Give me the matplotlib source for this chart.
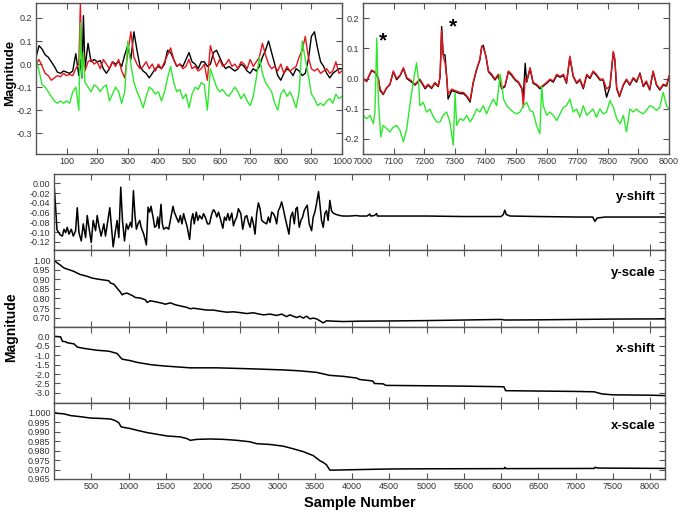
import matplotlib
matplotlib.use("Agg")
import matplotlib.pyplot as plt
from matplotlib.ticker import FormatStrFormatter

plt.rcParams['font.family'] = ['Liberation Sans', 'DejaVu Sans']
plt.rcParams['axes.unicode_minus'] = False

# ---- top left: samples 0-1000 ----
tl_x = [0, 10, 20, 30, 40, 50, 60, 70, 80, 90, 100, 110, 120, 130, 140, 145, 150, 155, 160,
        170, 180, 190, 200, 210, 220, 230, 240, 250, 260, 270, 280, 290, 300, 310, 320, 330,
        340, 350, 360, 370, 380, 390, 400, 410, 420, 430, 440, 450, 460, 470, 480, 490, 500,
        510, 520, 530, 540, 550, 560, 570, 580, 590, 600, 610, 620, 630, 640, 650, 660, 670,
        680, 690, 700, 710, 720, 730, 740, 750, 760, 770, 780, 790, 800, 810, 820, 830, 840,
        850, 860, 870, 880, 890, 900, 910, 920, 930, 940, 950, 960, 970, 980, 990, 1000]
tl_black = [0.03, 0.08, 0.065, 0.04, 0.03, 0.01, -0.01, -0.035, -0.04, -0.03, -0.035, -0.04,
            -0.03, 0.045, -0.05, 0.02, -0.06, 0.21, -0.02,
            0.09, 0.01, 0.02, 0.01, 0.015, -0.02, -0.04, -0.02, 0.01, 0.0, 0.01, -0.01, 0.04,
            0.08, 0.02, 0.14, 0.06, -0.01, -0.03, -0.04, -0.06, -0.04, -0.02, -0.01, -0.02,
            0.0, 0.06, 0.05, 0.02, -0.01, 0.0, -0.01, 0.02, 0.05, 0.01, 0.0, -0.02, 0.01, 0.01,
            -0.01, 0.0, 0.05, 0.06, 0.03, 0.0, -0.02, -0.01, -0.02, -0.03, -0.02, 0.0, -0.01,
            -0.03, -0.04, -0.02, -0.03, -0.01, 0.03, 0.06, 0.1, 0.05, 0.0, -0.05, -0.07, -0.04,
            -0.02, -0.03, -0.05, -0.02, -0.03, -0.05, -0.04, 0.02, 0.12, 0.14, 0.07, 0.01,
            -0.01, -0.04, -0.06, -0.04, -0.03, -0.02, -0.02]
tl_red = [0.0, 0.02, -0.01, -0.04, -0.05, -0.07, -0.06, -0.05, -0.055, -0.04, -0.05, -0.045,
          -0.05, -0.02, 0.0, 0.26, -0.02, 0.05, -0.03,
          0.01, 0.02, 0.0, 0.01, -0.02, 0.02, 0.0, -0.02, 0.01, -0.01, 0.02, -0.03, -0.06,
          0.05, 0.14, 0.03, 0.0, -0.02, -0.01, 0.01, -0.02, 0.0, -0.03, 0.0, -0.02, 0.01,
          0.04, 0.07, 0.02, -0.01, 0.0, -0.02, -0.01, 0.02, -0.02, -0.01, -0.03, -0.02, 0.0,
          -0.07, 0.08, 0.03, -0.01, 0.02, -0.01, 0.0, 0.02, -0.01, 0.0, -0.02, 0.01, 0.0,
          -0.02, 0.02, -0.01, 0.01, 0.03, 0.09, 0.04, 0.0, -0.02, -0.01, -0.03, 0.0, -0.04,
          -0.01, -0.03, -0.02, -0.01, 0.03, 0.06, 0.12, 0.03, -0.02, -0.03, -0.02, -0.04,
          -0.03, -0.02, -0.04, -0.03, 0.01, -0.04, -0.03]
tl_green = [0.02, -0.03, -0.09, -0.1, -0.12, -0.14, -0.16, -0.17, -0.16, -0.17, -0.16, -0.17,
            -0.12, -0.1, -0.2, 0.18, -0.06, 0.05, -0.08,
            -0.1, -0.12, -0.09, -0.1, -0.12, -0.1, -0.09, -0.16, -0.13, -0.1, -0.12, -0.17,
            -0.12, 0.1, 0.0, -0.08, -0.12, -0.15, -0.19, -0.14, -0.1, -0.11, -0.13, -0.12,
            -0.16, -0.12, -0.06, -0.01, -0.08, -0.12, -0.11, -0.15, -0.13, -0.19, -0.13, -0.1,
            -0.11, -0.08, -0.09, -0.2, -0.02, -0.06, -0.1, -0.12, -0.11, -0.13, -0.14, -0.12,
            -0.1, -0.12, -0.15, -0.13, -0.16, -0.18, -0.14, -0.06, 0.03, -0.04, -0.08, -0.1,
            -0.12, -0.17, -0.2, -0.13, -0.11, -0.14, -0.12, -0.15, -0.19, -0.12, 0.1, 0.02,
            -0.05, -0.13, -0.15, -0.18, -0.17, -0.18, -0.16, -0.15, -0.17, -0.13, -0.15, -0.14]

# ---- top right: samples 7000-8000 ----
tr_x = [7000, 7012, 7028, 7039, 7050, 7056, 7066, 7077, 7088, 7099, 7110, 7121, 7132, 7143,
        7159, 7170, 7186, 7203, 7213, 7224, 7235, 7246, 7252, 7257, 7262, 7268, 7273, 7278,
        7290, 7301, 7317, 7328, 7339, 7350, 7360, 7371, 7382, 7388, 7393, 7402, 7410, 7421,
        7431, 7442, 7453, 7464, 7475, 7486, 7497, 7508, 7519, 7524, 7530, 7535, 7546, 7556,
        7567, 7578, 7589, 7600, 7611, 7622, 7633, 7644, 7655, 7665, 7676, 7687, 7698, 7709,
        7720, 7731, 7742, 7752, 7763, 7774, 7785, 7796, 7807, 7818, 7823, 7829, 7838, 7851,
        7861, 7872, 7883, 7894, 7905, 7916, 7926, 7937, 7948, 7959, 7970, 7981, 7992, 8000]
tr_red = [0.0, -0.008, 0.028, 0.022, 0.003, -0.035, -0.051, -0.03, -0.019, 0.025, 0.0,
          0.011, 0.036, 0.003, -0.008, -0.019, -0.002, -0.03, -0.019, -0.03, -0.013, -0.024,
          0.009, 0.16, 0.074, 0.052, 0.009, -0.051, -0.035, -0.04, -0.046, -0.046, -0.057,
          -0.073, -0.013, 0.031, 0.064, 0.107, 0.102, 0.074, 0.025, 0.014, -0.002, 0.014,
          -0.03, -0.024, 0.025, 0.014, -0.002, -0.011, -0.03, -0.095, 0.0, -0.008, 0.036,
          -0.013, -0.019, -0.03, -0.022, -0.013, -0.002, -0.008, 0.014, 0.007, 0.014, -0.013,
          0.074, 0.009, -0.013, -0.002, -0.03, 0.014, 0.003, 0.025, 0.014, -0.002, -0.002,
          -0.035, -0.024, 0.09, 0.064, -0.03, -0.057, -0.019, -0.002, -0.019, 0.003, -0.008,
          0.014, -0.024, -0.008, -0.035, 0.025, -0.019, -0.035, -0.019, -0.022, 0.009]
tr_black = [0.0, -0.01, 0.026, 0.02, 0.0, -0.04, -0.053, -0.032, -0.02, 0.022, -0.004,
            0.009, 0.033, 0.0, -0.012, -0.022, -0.005, -0.034, -0.022, -0.033, -0.016, -0.027,
            0.006, 0.172, 0.08, 0.078, 0.012, -0.068, -0.04, -0.044, -0.05, -0.05, -0.06,
            -0.078, -0.016, 0.028, 0.062, 0.105, 0.11, 0.072, 0.022, 0.01, -0.005, 0.01,
            -0.034, -0.027, 0.022, 0.01, -0.005, -0.014, -0.034, -0.06, 0.05, -0.012, 0.032,
            -0.016, -0.022, -0.034, -0.025, -0.016, -0.005, -0.012, 0.01, 0.004, 0.01, -0.016,
            0.07, 0.006, -0.016, -0.005, -0.034, 0.01, 0.0, 0.022, 0.01, -0.005, -0.005,
            -0.062, -0.027, 0.086, 0.06, -0.034, -0.06, -0.022, -0.005, -0.022, 0.0, -0.012,
            0.018, -0.027, -0.012, -0.038, 0.022, -0.022, -0.038, -0.022, -0.025, 0.006]
tr_gx = [7000, 7012, 7023, 7034, 7039, 7045, 7050, 7058, 7066, 7077, 7088, 7099, 7110, 7121,
         7132, 7143, 7153, 7164, 7175, 7181, 7186, 7197, 7208, 7219, 7230, 7241, 7252, 7262,
         7273, 7284, 7295, 7301, 7306, 7317, 7328, 7339, 7350, 7360, 7371, 7382, 7393, 7404,
         7415, 7426, 7437, 7448, 7453, 7459, 7470, 7480, 7491, 7502, 7513, 7524, 7535, 7546,
         7556, 7567, 7578, 7584, 7589, 7600, 7611, 7622, 7633, 7644, 7655, 7665, 7676, 7687,
         7698, 7709, 7720, 7731, 7742, 7752, 7763, 7774, 7785, 7796, 7807, 7818, 7829, 7840,
         7851, 7861, 7872, 7883, 7894, 7905, 7916, 7926, 7937, 7948, 7959, 7970, 7981, 7992,
         8000]
tr_green = [-0.122, -0.133, -0.122, -0.15, -0.111, 0.134, -0.068, -0.193, -0.155, -0.166,
            -0.177, -0.161, -0.155, -0.172, -0.21, -0.166, -0.09, -0.013, 0.052, -0.002,
            -0.09, -0.079, -0.111, -0.101, -0.128, -0.144, -0.144, -0.122, -0.111, -0.144,
            -0.221, -0.046, -0.155, -0.133, -0.139, -0.122, -0.144, -0.128, -0.101, -0.111,
            -0.09, -0.117, -0.09, -0.068, -0.09, 0.014, -0.013, -0.068, -0.09, -0.101, -0.111,
            -0.117, -0.111, -0.09, -0.079, -0.106, -0.111, -0.155, -0.183, -0.024, -0.09,
            -0.122, -0.111, -0.122, -0.139, -0.117, -0.095, -0.09, -0.068, -0.111, -0.101,
            -0.128, -0.09, -0.122, -0.111, -0.101, -0.128, -0.101, -0.117, -0.111, -0.073,
            -0.095, -0.133, -0.15, -0.122, -0.177, -0.101, -0.111, -0.101, -0.111, -0.117,
            -0.106, -0.09, -0.095, -0.106, -0.095, -0.046, -0.09, -0.101]

# ---- bottom: fitted transform parameters vs sample number ----
ys_x = [0, 18, 40, 80, 112, 134, 156, 178, 201, 232, 259, 290, 312, 335, 366, 392, 424, 446,
        468, 500, 526, 558, 580, 602, 633, 669, 691, 723, 749, 772, 794, 825, 847, 870, 896,
        919, 946, 972, 995, 1026, 1044, 1066, 1088, 1106, 1128, 1151, 1169, 1204, 1240, 1262,
        1284, 1302, 1329, 1351, 1374, 1392, 1409, 1436, 1454, 1472, 1507, 1539, 1561, 1597,
        1615, 1641, 1672, 1695, 1717, 1739, 1762, 1784, 1820, 1842, 1864, 1882, 1909, 1931,
        1953, 1985, 2007, 2029, 2061, 2087, 2118, 2141, 2163, 2185, 2208, 2239, 2266, 2288,
        2310, 2333, 2355, 2386, 2408, 2431, 2453, 2475, 2507, 2533, 2564, 2587, 2609, 2631,
        2654, 2676, 2698, 2720, 2743, 2765, 2788, 2819, 2854, 2877, 2899, 2921, 2944, 2966,
        2988, 3011, 3033, 3055, 3077, 3100, 3131, 3153, 3176, 3202, 3225, 3247, 3265, 3291,
        3314, 3336, 3358, 3381, 3399, 3425, 3457, 3479, 3501, 3523, 3550, 3568, 3590, 3613,
        3635, 3657, 3679, 3702, 3724, 3746, 3791, 3836, 3880, 3969, 4059, 4103, 4200, 4240,
        4250, 4300, 4330, 4340, 4600, 5000, 5500, 6000, 6030, 6050, 6070, 6120, 6500, 7000,
        7230, 7260, 7290, 7400, 8200]
ys_y = [0.0, -0.04, -0.095, -0.105, -0.108, -0.094, -0.101, -0.09, -0.104, -0.094, -0.108,
        -0.097, -0.05, -0.101, -0.118, -0.083, -0.111, -0.066, -0.09, -0.121, -0.076, -0.097,
        -0.066, -0.087, -0.108, -0.083, -0.108, -0.076, -0.05, -0.09, -0.13, -0.097, -0.076,
        -0.111, -0.008, -0.076, -0.118, -0.083, -0.094, -0.08, -0.09, -0.015, -0.069, -0.094,
        -0.083, -0.076, -0.09, -0.104, -0.126, -0.049, -0.059, -0.047, -0.069, -0.09, -0.087,
        -0.069, -0.092, -0.043, -0.083, -0.094, -0.09, -0.094, -0.076, -0.047, -0.059, -0.069,
        -0.08, -0.066, -0.083, -0.062, -0.076, -0.087, -0.115, -0.076, -0.062, -0.083, -0.059,
        -0.076, -0.066, -0.073, -0.062, -0.069, -0.083, -0.083, -0.062, -0.054, -0.059, -0.069,
        -0.059, -0.076, -0.092, -0.069, -0.076, -0.062, -0.076, -0.061, -0.087, -0.076, -0.069,
        -0.052, -0.062, -0.094, -0.069, -0.066, -0.08, -0.09, -0.069, -0.083, -0.104, -0.062,
        -0.04, -0.052, -0.076, -0.08, -0.083, -0.069, -0.08, -0.059, -0.062, -0.069, -0.083,
        -0.056, -0.049, -0.038, -0.052, -0.069, -0.09, -0.104, -0.069, -0.059, -0.083, -0.052,
        -0.049, -0.09, -0.076, -0.069, -0.056, -0.049, -0.045, -0.083, -0.097, -0.069, -0.059,
        -0.042, -0.017, -0.042, -0.076, -0.09, -0.062, -0.056, -0.076, -0.035, -0.056, -0.061,
        -0.064, -0.066, -0.067, -0.067, -0.066, -0.067, -0.067, -0.063, -0.067, -0.066,
        -0.062, -0.067, -0.067, -0.067, -0.068, -0.068, -0.064, -0.055, -0.064, -0.067,
        -0.068, -0.069, -0.069, -0.078, -0.071, -0.069, -0.069]

ysc_x = [0, 45, 89, 134, 201, 268, 312, 357, 401, 446, 513, 580, 669, 736, 758, 803, 847, 892,
         914, 937, 981, 1048, 1093, 1160, 1227, 1249, 1293, 1383, 1450, 1494, 1561, 1628, 1695,
         1784, 1829, 1873, 1962, 2052, 2141, 2230, 2319, 2408, 2498, 2587, 2676, 2743, 2810,
         2899, 2988, 3055, 3122, 3167, 3256, 3300, 3345, 3390, 3434, 3479, 3523, 3568, 3613,
         3657, 3746, 3880, 4103, 4500, 5000, 5500, 6000, 6050, 6500, 7000, 7500, 8200]
ysc_y = [1.0, 0.986, 0.974, 0.96, 0.951, 0.942, 0.933, 0.925, 0.921, 0.916, 0.907, 0.902,
         0.897, 0.893, 0.881, 0.875, 0.854, 0.833, 0.819, 0.825, 0.828, 0.816, 0.805, 0.802,
         0.793, 0.779, 0.788, 0.781, 0.775, 0.77, 0.777, 0.767, 0.761, 0.753, 0.746, 0.749,
         0.744, 0.739, 0.739, 0.733, 0.728, 0.73, 0.726, 0.721, 0.725, 0.719, 0.714, 0.718,
         0.711, 0.718, 0.705, 0.714, 0.7, 0.707, 0.697, 0.707, 0.693, 0.697, 0.693, 0.683,
         0.672, 0.683, 0.681, 0.679, 0.681, 0.682, 0.684, 0.687, 0.69, 0.687, 0.688, 0.69,
         0.692, 0.693]

xs_x = [0, 89, 112, 156, 178, 268, 312, 401, 490, 580, 714, 758, 847, 892, 914, 1026, 1115,
        1249, 1293, 1472, 1650, 1829, 2185, 2631, 3077, 3300, 3523, 3702, 3880, 4059, 4103,
        4200, 4280, 4300, 4420, 4450, 5000, 5500, 6000, 6040, 6060, 6500, 7000, 7250, 7350,
        7500, 8000, 8200]
xs_y = [0.0, -0.03, -0.26, -0.29, -0.34, -0.4, -0.57, -0.64, -0.69, -0.74, -0.78, -0.81,
        -0.91, -1.12, -1.21, -1.29, -1.38, -1.47, -1.5, -1.57, -1.62, -1.67, -1.67, -1.72,
        -1.78, -1.83, -1.91, -2.07, -2.12, -2.21, -2.29, -2.33, -2.37, -2.5, -2.52, -2.6,
        -2.62, -2.64, -2.67, -2.68, -2.88, -2.9, -2.92, -2.94, -3.05, -3.1, -3.12, -3.14]

xsc_x = [0, 45, 134, 223, 357, 490, 624, 758, 825, 870, 901, 1026, 1115, 1249, 1383, 1516,
         1695, 1784, 1829, 1918, 2096, 2274, 2453, 2631, 2720, 2899, 3077, 3211, 3345, 3479,
         3523, 3568, 3613, 3657, 3702, 3746, 4103, 4500, 5000, 6040, 6050, 6060, 7250, 7260,
         7300, 8200]
xsc_y = [1.0004, 0.9998, 0.9995, 0.9986, 0.998, 0.9973, 0.9971, 0.9968, 0.9959, 0.9948,
         0.9926, 0.9917, 0.9908, 0.9896, 0.9887, 0.9878, 0.9873, 0.9864, 0.9855, 0.986,
         0.9862, 0.986, 0.9855, 0.9847, 0.9837, 0.9833, 0.9824, 0.981, 0.9795, 0.9774,
         0.9761, 0.9747, 0.9738, 0.9725, 0.9697, 0.9697, 0.97, 0.9703, 0.9704, 0.9705,
         0.9712, 0.9705, 0.9706, 0.9712, 0.9708, 0.9706]

# tick values of the four parameter panels
ys_ticks = [-0.12, -0.10, -0.08, -0.06, -0.04, -0.02, 0.00]
ysc_ticks = [0.70, 0.75, 0.80, 0.85, 0.90, 0.95, 1.00]
xs_ticks = [-3.0, -2.5, -2.0, -1.5, -1.0, -0.5, 0.0]
xsc_ticks = [0.965, 0.970, 0.975, 0.980, 0.985, 0.990, 0.995, 1.000]

RED = '#e3141b'
GREEN = '#2ee82e'
FRAME = '#555555'
W, H = 685, 513


def style_axes(ax):
    """Inward ticks on every side, grey frame, small grey tick labels."""
    for sp in ax.spines.values():
        sp.set_color(FRAME)
        sp.set_linewidth(1.0)
    ax.tick_params(direction='in', length=4, width=0.8, color=FRAME,
                   top=True, right=True, labelsize=6.5, labelcolor='#333333', pad=2.5)


def px_axes(fig, left, top, right, bottom):
    return fig.add_axes([left / W, 1 - bottom / H, (right - left) / W, (bottom - top) / H])


fig = plt.figure(figsize=(W / 100, H / 100), dpi=100)

# top left window
ax = px_axes(fig, 36, 3, 342, 154)
ax.plot(tl_x, tl_black, color='black', lw=1.0)
ax.plot(tl_x, tl_red, color=RED, lw=1.0)
ax.plot(tl_x, tl_green, color=GREEN, lw=1.0)
ax.set_xlim(0, 1000)
ax.set_ylim(-0.39, 0.265)
ax.set_xticks(range(100, 1001, 100))
ax.set_yticks([-0.3, -0.2, -0.1, 0.0, 0.1, 0.2])
ax.yaxis.set_major_formatter(FormatStrFormatter('%.1f'))
style_axes(ax)

# top right window
ax = px_axes(fig, 363, 3, 669, 154)
ax.plot(tr_x, tr_black, color='black', lw=1.0)
ax.plot(tr_x, tr_red, color=RED, lw=1.0)
ax.plot(tr_gx, tr_green, color=GREEN, lw=1.0)
ax.set_xlim(7000, 8000)
ax.set_ylim(-0.25, 0.25)
ax.set_xticks(range(7000, 8001, 100))
ax.set_yticks([-0.2, -0.1, 0.0, 0.1, 0.2])
ax.yaxis.set_major_formatter(FormatStrFormatter('%.1f'))
ax.text(7065, 0.125, '*', fontsize=15, fontweight='bold', ha='center', va='center')
ax.text(7294, 0.172, '*', fontsize=15, fontweight='bold', ha='center', va='center')
style_axes(ax)

fig.text(10 / W, 1 - 73 / H, 'Magnitude', rotation=90, ha='center', va='center',
         fontsize=9.5, fontweight='bold')

# four stacked parameter panels
panels = [
    (ys_x, ys_y, (-0.137, 0.019), ys_ticks, '%.2f', 'y-shift'),
    (ysc_x, ysc_y, (0.653, 1.053), ysc_ticks, '%.2f', 'y-scale'),
    (xs_x, xs_y, (-3.52, 0.52), xs_ticks, '%.1f', 'x-shift'),
    (xsc_x, xsc_y, (0.965, 1.0054), xsc_ticks, '%.3f', 'x-scale'),
]
top0, step = 174, 76.25
for i, (px, py, ylim, yticks, fmt, name) in enumerate(panels):
    ax = px_axes(fig, 54, top0 + i * step, 665, top0 + (i + 1) * step)
    ax.plot(px, py, color='black', lw=1.1)
    ax.set_xlim(0, 8200)
    ax.set_ylim(*ylim)
    ax.set_xticks(range(500, 8001, 500))
    ax.set_yticks(yticks)
    ax.yaxis.set_major_formatter(FormatStrFormatter(fmt))
    style_axes(ax)
    if i < 3:
        ax.tick_params(labelbottom=False)
    ax.text(0.985, 0.70, name, transform=ax.transAxes, ha='right', va='center',
            fontsize=9.5, fontweight='bold')

fig.text(11 / W, 1 - 327 / H, 'Magnitude', rotation=90, ha='center', va='center',
         fontsize=10, fontweight='bold')
fig.text(360 / W, 1 - 503 / H, 'Sample Number', ha='center', va='center',
         fontsize=10.5, fontweight='bold')

fig.savefig('out.png', dpi=100)
